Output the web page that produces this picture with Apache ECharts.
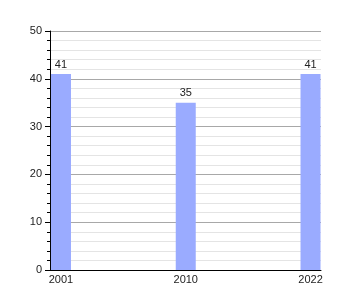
<!DOCTYPE html>
<html><head><meta charset="utf-8">
<script src="https://cdn.jsdelivr.net/npm/echarts@6/dist/echarts.min.js"></script>
<style>html,body{margin:0;padding:0;background:#fff}#c{width:350px;height:300px}</style>
</head><body><div id="c"></div>
<script>
var categories = ['2001', '2010', '2022'];
var values = [41, 35, 41];
var yTicks = [0, 10, 20, 30, 40, 50];

var chart = echarts.init(document.getElementById('c'), null, {renderer: 'canvas'});
var font = 'Liberation Sans, Arial, sans-serif';
chart.setOption({
  animation: false,
  grid: {left: 50, right: 29, top: 31, bottom: 30, containLabel: false},
  xAxis: {
    type: 'value', min: -0.088, max: 2.084,
    axisLine: {show: true, onZero: false, lineStyle: {color: '#000', width: 1}},
    axisTick: {show: false},
    splitLine: {show: false},
    axisLabel: {
      customValues: [0, 1, 2],
      formatter: function (v) { return categories[Math.round(v)]; },
      color: '#222', fontSize: 11, fontFamily: font, margin: 4
    }
  },
  yAxis: {
    type: 'value', min: yTicks[0], max: yTicks[yTicks.length - 1], interval: 10,
    axisLine: {show: true, onZero: false, lineStyle: {color: '#000', width: 1}},
    axisTick: {show: true, length: 5, lineStyle: {color: '#000'}},
    minorTick: {show: true, splitNumber: 5, length: 3, lineStyle: {color: '#000'}},
    splitLine: {show: true, lineStyle: {color: '#a8a8a8', width: 1}},
    minorSplitLine: {show: true, lineStyle: {color: '#e4e4e4', width: 1}},
    axisLabel: {color: '#222', fontSize: 11, fontFamily: font, margin: 8}
  },
  series: [{
    type: 'bar',
    data: values.map(function (v, i) { return [i, v]; }),
    barWidth: 20,
    itemStyle: {color: '#9aabff'},
    label: {show: true, position: 'top', color: '#222', fontSize: 11, fontFamily: font, distance: 4,
      formatter: function (p) { return p.value[1]; }}
  }]
});
</script></body></html>
